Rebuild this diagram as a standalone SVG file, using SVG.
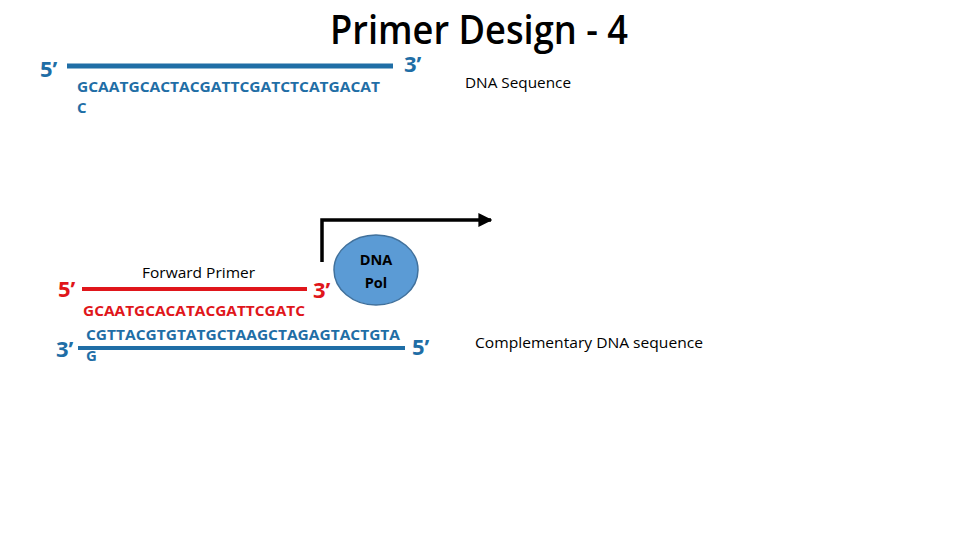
<svg xmlns="http://www.w3.org/2000/svg" width="960" height="540" viewBox="0 0 960 540">
<defs>
<style>
.t{font-family:"Open Sans","Liberation Sans",sans-serif}
.b{font-weight:bold}
.blue{fill:#1F6EA6}
.red{fill:#E0161B}
.blk{fill:#000}
.seq{font-size:15px;font-weight:bold}
.lbl{font-size:14.5px}
.end{font-size:22px;font-weight:bold}
</style>
<marker id="ah" viewBox="0 0 10 10" refX="9" refY="5" markerWidth="4" markerHeight="4" orient="auto" markerUnits="strokeWidth">
<path d="M0,0 L10,5 L0,10 z" fill="#000"/>
</marker>
</defs>
<rect width="960" height="540" fill="#fff"/>
<text id="title" class="t blk" x="330" y="44" font-size="39" font-weight="600" textLength="298" lengthAdjust="spacingAndGlyphs">Primer Design - 4</text>

<g id="top-strand">
<line x1="67" y1="66" x2="393" y2="66" stroke="#1F6EA6" stroke-width="5"/>
<text class="t end blue" x="40" y="77">5’</text>
<text class="t end blue" x="404" y="72">3’</text>
<text class="t seq blue" x="77" y="92" textLength="303" lengthAdjust="spacingAndGlyphs">GCAATGCACTACGATTCGATCTCATGACAT</text>
<text class="t seq blue" x="77" y="113">C</text>
</g>
<g id="dna-seq-label"><text class="t lbl blk" x="465" y="88" textLength="106" lengthAdjust="spacingAndGlyphs">DNA Sequence</text></g>

<g id="connectors">
<polyline points="322,262 322,220 491,220" fill="none" stroke="#000" stroke-width="3.5" marker-end="url(#ah)"/>
</g>

<g id="dna-pol">
<ellipse cx="376" cy="270" rx="42" ry="35" fill="#5B9BD5" stroke="#41719C" stroke-width="1.5"/>
<text class="t b blk" x="376" y="265" font-size="14.5" text-anchor="middle">DNA</text>
<text class="t b blk" x="376" y="288" font-size="14.5" text-anchor="middle">Pol</text>
</g>

<g id="forward-primer">
<text class="t lbl blk" x="142" y="278" textLength="113" lengthAdjust="spacingAndGlyphs">Forward Primer</text>
<line x1="82" y1="289" x2="307" y2="289" stroke="#E0161B" stroke-width="4"/>
<text class="t end red" x="58" y="297">5’</text>
<text class="t end red" x="313" y="298">3’</text>
<text class="t seq red" x="83" y="316" textLength="222" lengthAdjust="spacingAndGlyphs">GCAATGCACATACGATTCGATC</text>
</g>

<g id="bottom-strand">
<line x1="78" y1="348" x2="405" y2="348" stroke="#1F6EA6" stroke-width="4"/>
<text class="t end blue" x="56" y="357">3’</text>
<text class="t end blue" x="412" y="355">5’</text>
<text class="t seq blue" x="86" y="340" textLength="314" lengthAdjust="spacingAndGlyphs">CGTTACGTGTATGCTAAGCTAGAGTACTGTA</text>
<text class="t seq blue" x="86" y="361">G</text>
</g>
<g id="comp-label"><text class="t lbl blk" x="475" y="348" textLength="228" lengthAdjust="spacingAndGlyphs">Complementary DNA sequence</text></g>
</svg>
